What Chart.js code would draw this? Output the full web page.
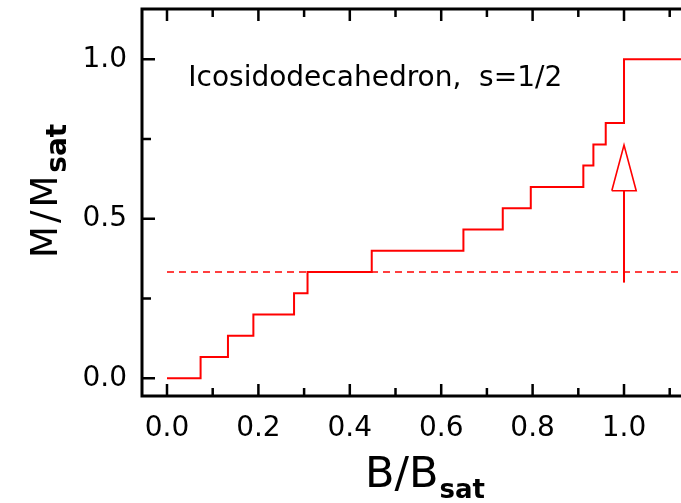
<!DOCTYPE html>
<html>
<head>
<meta charset="utf-8">
<script src="https://cdn.jsdelivr.net/npm/chart.js@4/dist/chart.umd.min.js"></script>
<style>
  html, body { margin: 0; padding: 0; background: #fff; overflow: hidden; }
  canvas { display: block; }
</style>
</head>
<body>
<canvas id="mag-chart" width="681" height="503"></canvas>
<script>
// staircase M/Msat(B/Bsat)
const fieldSteps = [0.0, 0.0735, 0.1334, 0.189, 0.278, 0.3075, 0.448, 0.6486, 0.7347, 0.796, 0.911, 0.933, 0.96, 1.0, 1.13];
const magnetization = [0.0, 0.0667, 0.1333, 0.2, 0.2667, 0.3333, 0.4, 0.4667, 0.5333, 0.6, 0.6667, 0.7333, 0.8, 1.0, 1.0];

// dashed 1/3 plateau line
const plateauX = [0.0, 1.13];
const plateauY = [0.3333, 0.3333];

// arrow at B = Bsat
const arrowX = [1.0, 1.0];
const arrowY = [0.30, 0.588];
const headX = [0.9733, 1.0, 1.0267, 0.9733];
const headY = [0.588, 0.731, 0.588, 0.588];

const xMajor = [0.0, 0.2, 0.4, 0.6, 0.8, 1.0];
const xMinor = [0.1, 0.3, 0.5, 0.7, 0.9, 1.1];
const xLabels = ['0.0', '0.2', '0.4', '0.6', '0.8', '1.0'];
const yMajor = [0.0, 0.5, 1.0];
const yMinor = [0.25, 0.75];
const yLabels = ['0.0', '0.5', '1.0'];

const noteText = 'Icosidodecahedron,  s=1/2';
const noteAt = [0.0466, 0.916];

const RED = '#ff0000';
const FONT = '"DejaVu Sans", sans-serif';

const toPoints = (xs, ys) => xs.map((x, i) => ({ x, y: ys[i] }));

// frame, inward ticks, titles, annotation
const framePlugin = {
    id: 'frame',
    afterDraw(chart) {
        const { ctx, chartArea: a, scales } = chart;
        const sx = scales.x;
        const sy = scales.y;
        ctx.save();
        ctx.strokeStyle = '#000';
        ctx.lineWidth = 3;
        ctx.beginPath();
        ctx.moveTo(chart.width + 2, a.top);
        ctx.lineTo(a.left, a.top);
        ctx.lineTo(a.left, a.bottom);
        ctx.lineTo(chart.width + 2, a.bottom);
        ctx.stroke();

        ctx.lineWidth = 2.5;
        ctx.beginPath();
        const xt = (vals, len) => {
            vals.forEach((v) => {
                const px = sx.getPixelForValue(v);
                ctx.moveTo(px, a.bottom);
                ctx.lineTo(px, a.bottom - len);
                ctx.moveTo(px, a.top);
                ctx.lineTo(px, a.top + len);
            });
        };
        xt(xMajor, 12);
        xt(xMinor, 8);
        const yt = (vals, len) => {
            vals.forEach((v) => {
                const py = sy.getPixelForValue(v);
                ctx.moveTo(a.left, py);
                ctx.lineTo(a.left + len, py);
            });
        };
        yt(yMajor, 13);
        yt(yMinor, 9);
        ctx.stroke();

        ctx.fillStyle = '#000';
        ctx.textBaseline = 'alphabetic';
        ctx.textAlign = 'left';

        // annotation
        ctx.font = `28px ${FONT}`;
        ctx.fillText(noteText, sx.getPixelForValue(noteAt[0]), sy.getPixelForValue(noteAt[1]));

        // x title
        ctx.font = `43px ${FONT}`;
        ctx.fillText('B/B', 365, 487);
        let w = ctx.measureText('B/B').width;
        ctx.font = `bold 26px ${FONT}`;
        ctx.fillText('sat', 365 + w + 1, 498);

        // y title
        ctx.translate(57, 258);
        ctx.rotate(-Math.PI / 2);
        ctx.font = `37px ${FONT}`;
        ctx.letterSpacing = '3px';
        ctx.fillText('M/M', 0, 0);
        w = ctx.measureText('M/M').width;
        ctx.letterSpacing = '0px';
        ctx.font = `bold 28px ${FONT}`;
        ctx.fillText('sat', w, 9);
        ctx.restore();
    },
};

const initChart = () => {
    const canvas = document.getElementById('mag-chart');
    if (!canvas || !window.Chart) return;

    new Chart(canvas, {
        type: 'scatter',
        data: {
            datasets: [
                {
                    data: toPoints(fieldSteps, magnetization),
                    showLine: true,
                    stepped: 'before',
                    borderColor: RED,
                    borderWidth: 2,
                    pointRadius: 0,
                },
                {
                    data: toPoints(plateauX, plateauY),
                    showLine: true,
                    borderColor: RED,
                    borderWidth: 1.4,
                    borderDash: [7, 5],
                    pointRadius: 0,
                },
                {
                    data: toPoints(arrowX, arrowY),
                    showLine: true,
                    borderColor: RED,
                    borderWidth: 2,
                    pointRadius: 0,
                },
                {
                    data: toPoints(headX, headY),
                    showLine: true,
                    borderColor: RED,
                    borderWidth: 1.6,
                    pointRadius: 0,
                    borderJoinStyle: 'miter',
                },
            ],
        },
        options: {
            responsive: false,
            animation: false,
            layout: { padding: { left: 0, right: 0, top: 9, bottom: 0 } },
            plugins: {
                legend: { display: false },
                tooltip: { enabled: false },
            },
            scales: {
                x: {
                    type: 'linear',
                    min: -0.0547,
                    max: 1.1247,
                    grid: { display: false, drawTicks: false },
                    border: { display: false },
                    afterBuildTicks: (scale) => {
                        scale.ticks = xMajor.map((v) => ({ value: v }));
                    },
                    afterFit: (scale) => {
                        scale.height = 107;
                        scale.paddingLeft = 0;
                        scale.paddingRight = 0;
                    },
                    ticks: {
                        color: '#000',
                        font: { family: FONT, size: 28 },
                        padding: 16,
                        maxRotation: 0,
                        callback: (v, i) => xLabels[i],
                    },
                },
                y: {
                    type: 'linear',
                    min: -0.0555,
                    max: 1.1577,
                    grid: { display: false, drawTicks: false },
                    border: { display: false },
                    afterBuildTicks: (scale) => {
                        scale.ticks = yMajor.map((v) => ({ value: v }));
                    },
                    afterFit: (scale) => {
                        scale.width = 142;
                        scale.paddingTop = 0;
                        scale.paddingBottom = 0;
                    },
                    ticks: {
                        color: '#000',
                        font: { family: FONT, size: 28 },
                        padding: 15,
                        callback: (v, i) => yLabels[i],
                    },
                },
            },
        },
        plugins: [framePlugin],
    });
};

document.addEventListener('DOMContentLoaded', initChart);
</script>
</body>
</html>
